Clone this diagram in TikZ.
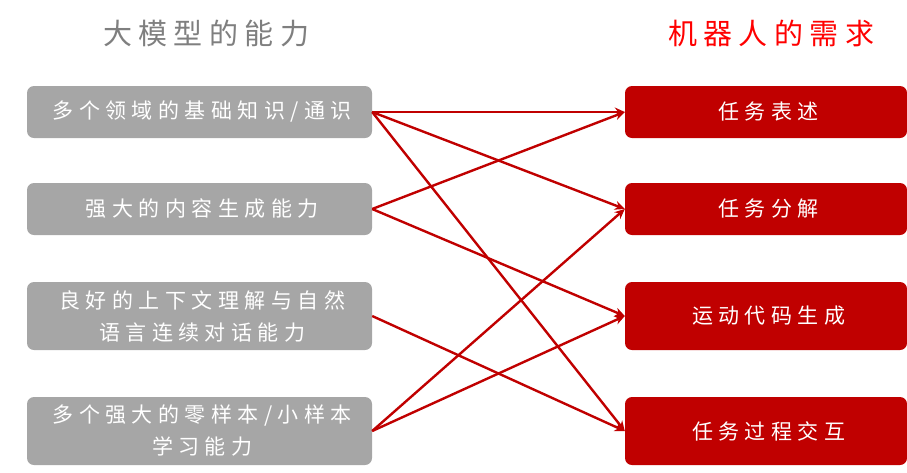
\documentclass[tikz,border=0pt]{standalone}
\usepackage{fontspec}
\usetikzlibrary{arrows.meta}
\newfontfamily\cjkbox[LetterSpace=26]{Noto Sans CJK SC}
\newfontfamily\cjktitle[LetterSpace=22]{Noto Sans CJK SC}
\definecolor{boxgray}{HTML}{A6A6A6}
\definecolor{boxred}{HTML}{C00000}
\definecolor{titlegray}{HTML}{7F7F7F}
\definecolor{titlered}{HTML}{FF0000}
\newcommand\BE{\kern-0.26em}
\newcommand\TE{\kern-0.22em}
\tikzset{
  leftbox/.style={fill=boxgray, rounded corners=7pt, minimum width=345pt, inner sep=0pt,
    text=white, align=center, font=\cjkbox\fontsize{21pt}{32pt}\selectfont},
  rightbox/.style={fill=boxred, rounded corners=7pt, minimum width=282pt, inner sep=0pt,
    text=white, align=center, font=\cjkbox\fontsize{21pt}{32pt}\selectfont},
  titletext/.style={inner sep=0pt, font=\cjktitle\fontsize{29pt}{32pt}\selectfont},
  link/.style={draw=boxred, line width=2.4pt, -{Stealth[length=10pt,width=9pt]}}
}
\begin{document}
\begin{tikzpicture}[x=1pt,y=-1pt]
\useasboundingbox (0,0) rectangle (907,472);
\node[titletext, text=titlegray] (t1) at (203,33) {大模型的能力\TE};
\node[titletext, text=titlered] (t2) at (768,33) {机器人的需求\TE};
\node[leftbox, minimum height=52pt] (l1) at (199.5,112) {多个领域的基础知识/通识\BE};
\node[leftbox, minimum height=52pt] (l2) at (199.5,209) {强大的内容生成能力\BE};
\node[leftbox, minimum height=68pt] (l3) at (199.5,316) {良好的上下文理解与自然\BE\\语言连续对话能力\BE};
\node[leftbox, minimum height=68pt] (l4) at (199.5,431) {多个强大的零样本/小样本\BE\\学习能力\BE};
\node[rightbox, minimum height=52pt] (r1) at (766,112) {任务表述\BE};
\node[rightbox, minimum height=52pt] (r2) at (766,209) {任务分解\BE};
\node[rightbox, minimum height=68pt] (r3) at (766,316) {运动代码生成\BE};
\node[rightbox, minimum height=68pt] (r4) at (766,431) {任务过程交互\BE};
\draw[link] (l1.east) -- (r1.west);
\draw[link] (l1.east) -- (r2.west);
\draw[link] (l1.east) -- (r4.west);
\draw[link] (l2.east) -- (r1.west);
\draw[link] (l2.east) -- (r3.west);
\draw[link] (l3.east) -- (r4.west);
\draw[link] (l4.east) -- (r2.west);
\draw[link] (l4.east) -- (r3.west);
\end{tikzpicture}
\end{document}
